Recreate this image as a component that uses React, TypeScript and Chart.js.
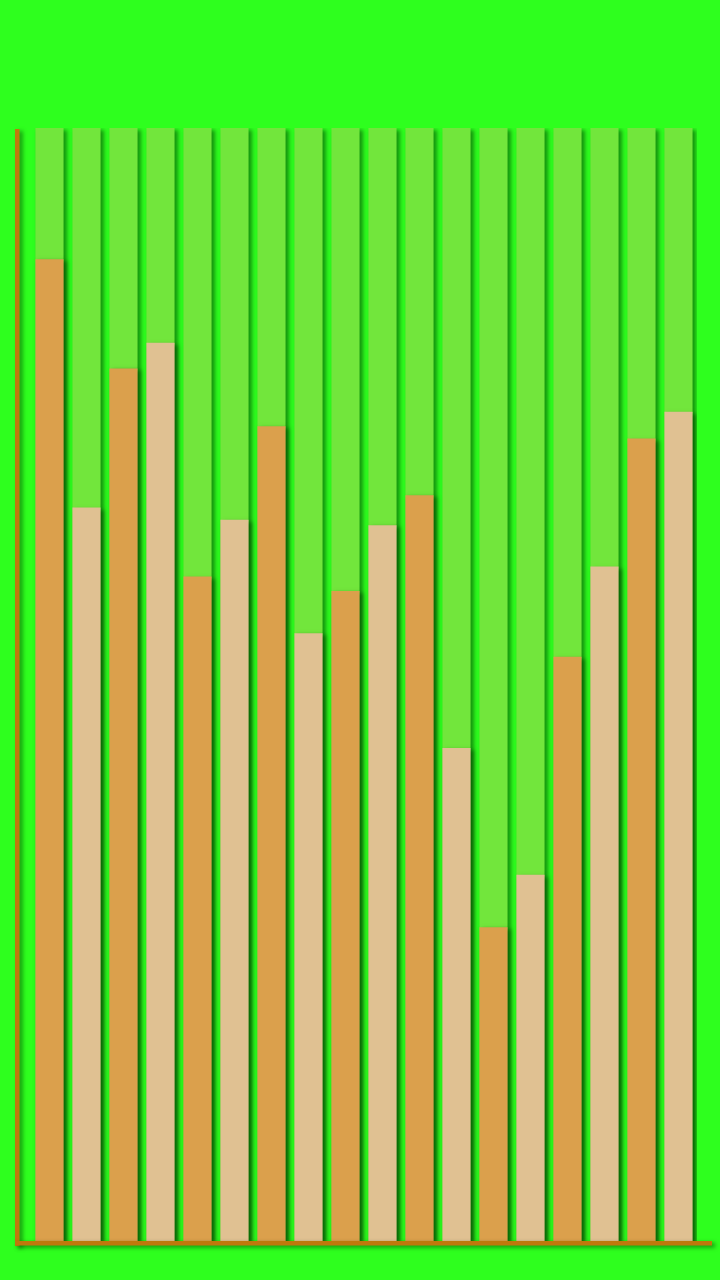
import React, { useEffect, useRef } from "react";
import Chart, { Plugin } from "chart.js/auto";

const labels = ["1", "2", "3", "4", "5", "6", "7", "8", "9", "10", "11", "12", "13", "14", "15", "16", "17", "18"];
const values = [88.2, 65.9, 78.4, 80.7, 59.7, 64.8, 73.2, 54.6, 58.4, 64.3, 67.0, 44.3, 28.2, 32.9, 52.5, 60.6, 72.1, 74.5];
const trackValues = labels.map(() => 100);
const barColors = labels.map((_, i) => (i % 2 === 0 ? "#DBA04C" : "#E0C192"));

const BG = "#2EFF1E";
const AXIS = "#C0780C";

// background fill + shadows on bars + hand drawn axis lines
const decor: Plugin<"bar"> = {
  id: "decor",
  beforeDraw(chart) {
    const ctx = chart.ctx;
    ctx.save();
    ctx.fillStyle = BG;
    ctx.fillRect(0, 0, chart.width, chart.height);
    ctx.restore();
  },
  beforeDatasetDraw(chart) {
    const ctx = chart.ctx;
    ctx.save();
    ctx.shadowColor = "rgba(0, 60, 0, 0.55)";
    ctx.shadowOffsetX = 3;
    ctx.shadowOffsetY = 2;
    ctx.shadowBlur = 4;
  },
  afterDatasetDraw(chart) {
    chart.ctx.restore();
  },
  afterDatasetsDraw(chart) {
    const { ctx, chartArea } = chart;
    ctx.save();
    ctx.shadowColor = "rgba(0, 60, 0, 0.55)";
    ctx.shadowOffsetX = 3;
    ctx.shadowOffsetY = 2;
    ctx.shadowBlur = 4;
    ctx.fillStyle = AXIS;
    ctx.fillRect(15, chartArea.top + 1, 4.5, chartArea.bottom - chartArea.top + 4);
    ctx.fillRect(15, chartArea.bottom, 697, 4.5);
    ctx.restore();
  },
};

const App: React.FC = () => {
  const canvasRef = useRef<HTMLCanvasElement>(null);
  const chartRef = useRef<Chart<"bar"> | null>(null);

  useEffect(() => {
    document.body.style.margin = "0";
    document.body.style.background = BG;
    if (!canvasRef.current) return;
    const ctx = canvasRef.current.getContext("2d");
    if (!ctx) return;
    if (chartRef.current) chartRef.current.destroy();

    chartRef.current = new Chart(ctx, {
      type: "bar",
      data: {
        labels: labels,
        datasets: [
          {
            data: values,
            backgroundColor: barColors,
            grouped: false,
            order: 0,
          },
          {
            data: trackValues,
            backgroundColor: "#72E63C",
            grouped: false,
            order: 1,
          },
        ],
      },
      options: {
        responsive: false,
        animation: false,
        events: [],
        layout: { padding: { left: 31, right: 23, top: 128, bottom: 39 } },
        datasets: { bar: { barPercentage: 0.76, categoryPercentage: 1 } },
        plugins: { legend: { display: false }, tooltip: { enabled: false } },
        scales: {
          x: { display: false, offset: true },
          y: { display: false, min: 0, max: 100 },
        },
      },
      plugins: [decor],
    });

    return () => {
      if (chartRef.current) {
        chartRef.current.destroy();
        chartRef.current = null;
      }
    };
  }, []);

  return <canvas ref={canvasRef} width={720} height={1280} style={{ display: "block" }} />;
};

export default App;
